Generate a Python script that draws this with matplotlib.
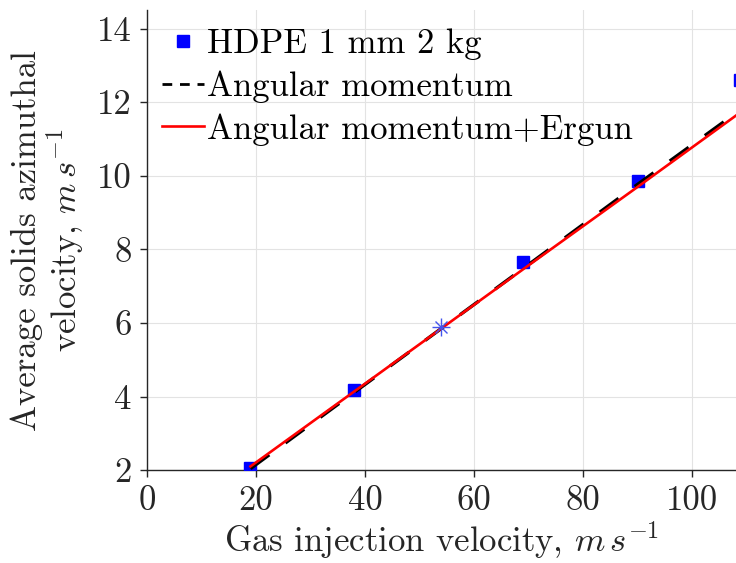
import matplotlib
matplotlib.use("Agg")
import matplotlib.pyplot as plt
from matplotlib.lines import Line2D

plt.rcParams['font.family'] = 'cmr10'
plt.rcParams['mathtext.fontset'] = 'cm'
plt.rcParams['axes.unicode_minus'] = False

# measured points (HDPE 1 mm, 2 kg)
v_gas = [19, 38, 69, 90, 108.7]
v_sol = [2.05, 4.17, 7.65, 9.87, 12.6]

# extra point drawn with an asterisk
v_gas_star = [54.0]
v_sol_star = [5.88]

# model curves
v_model = [19, 38, 54, 69, 90, 110]
am_model = [2.04, 4.11, 5.85, 7.48, 9.77, 11.92]
am_ergun = [2.10, 4.135, 5.85, 7.46, 9.70, 11.85]

txt = '#262626'
fs = 25

fig = plt.figure(figsize=(7.36, 5.63), dpi=100)
ax = fig.add_axes([0.1995, 0.165, 0.8005, 0.817])

ax.plot(v_gas, v_sol, 's', color='#0000ff', ms=9.2, zorder=3)
ax.plot(v_model, am_model, color='k', lw=2.4, dashes=(7, 6), zorder=4)
ax.plot(v_model, am_ergun, color='#ff0000', lw=1.9, zorder=5)
ax.plot(v_gas_star, v_sol_star, '+', color='#4455ee', ms=13, mew=1.0, zorder=6)
ax.plot(v_gas_star, v_sol_star, 'x', color='#4455ee', ms=9, mew=1.0, zorder=6)

ax.set_xlim(0, 108)
ax.set_ylim(2, 14.5)
ax.set_xticks([0, 20, 40, 60, 80, 100])
ax.set_yticks([2, 4, 6, 8, 10, 12, 14])
ax.grid(True, color='#e3e3e3', lw=0.8)
ax.set_axisbelow(True)

for s in ['top', 'right']:
    ax.spines[s].set_visible(False)
for s in ['left', 'bottom']:
    ax.spines[s].set_color(txt)
    ax.spines[s].set_linewidth(1.0)
ax.tick_params(direction='out', length=5, width=1.0, colors=txt, labelsize=fs, pad=6)

ax.set_xlabel(r'Gas injection velocity, $m\,s^{-1}$', fontsize=fs, color=txt, labelpad=2)
ax.set_ylabel('Average solids azimuthal\n' + r'velocity, $m\,s^{-1}$', fontsize=fs,
              color=txt, labelpad=8, linespacing=1.05)

handles = [Line2D([], [], ls='none', marker='s', color='#0000ff', ms=9.2),
           Line2D([], [], color='k', lw=2.0, dashes=(3.5, 2.8)),
           Line2D([], [], color='#ff0000', lw=1.9)]
labels = ['HDPE 1 mm 2 kg', 'Angular momentum', 'Angular momentum+Ergun']
ax.legend(handles, labels, loc='upper left', frameon=False, fontsize=fs,
          handlelength=1.2, handletextpad=0.08, labelspacing=0.3,
          borderaxespad=0.0, bbox_to_anchor=(0.003, 0.991))

fig.savefig('out.png', dpi=100)
